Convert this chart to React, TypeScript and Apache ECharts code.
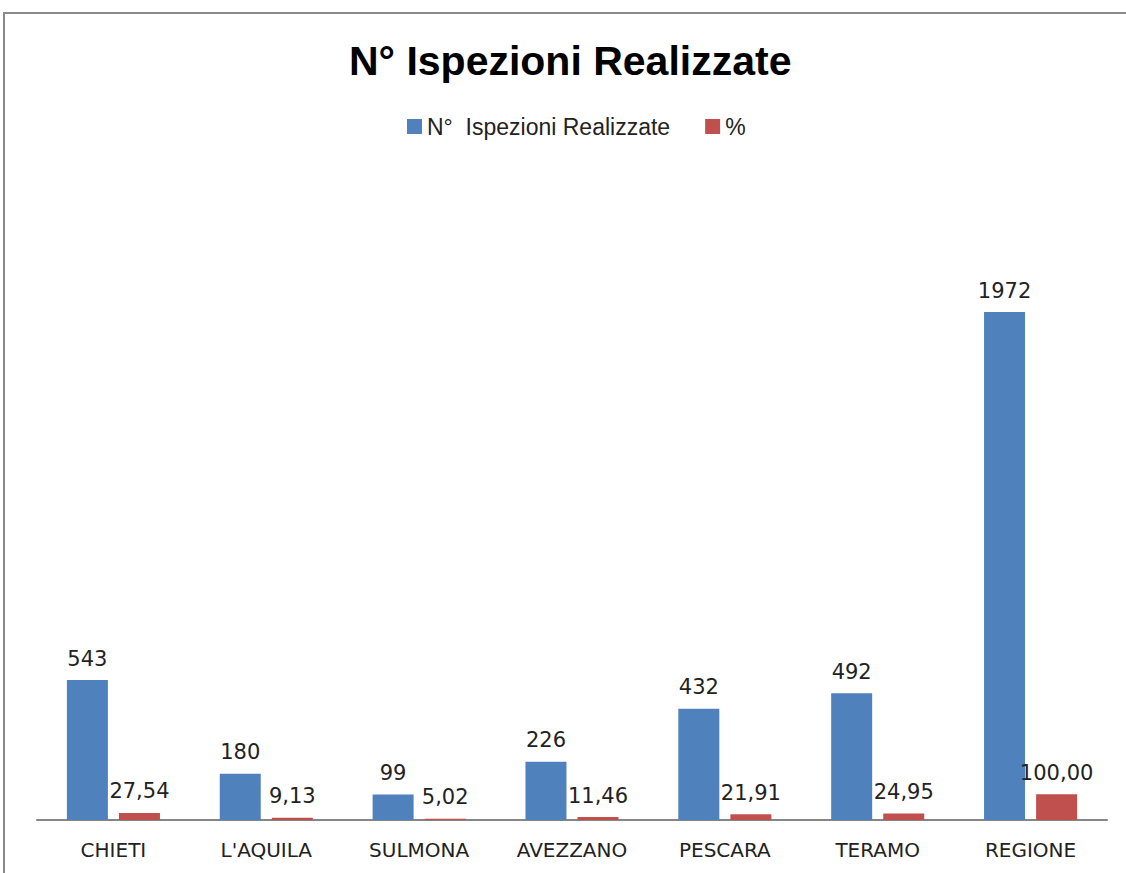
import React, { useEffect, useRef } from "react";
import * as echarts from "echarts";

const categories = ["CHIETI", "L'AQUILA", "SULMONA", "AVEZZANO", "PESCARA", "TERAMO", "REGIONE"];
const ispezioni = [543, 180, 99, 226, 432, 492, 1972];
const percentuali = [27.54, 9.13, 5.02, 11.46, 21.91, 24.95, 100.0];
const seriesNames = ["N°  Ispezioni Realizzate", "%"];
const titleText = "N° Ispezioni Realizzate";

export default function App() {
  const ref = useRef<HTMLDivElement>(null);
  useEffect(() => {
    if (!ref.current) return;
    const chart = echarts.init(ref.current, null, { renderer: "svg" });
    const labelStyle = {
      show: true,
      position: "top" as const,
      distance: 11,
      fontFamily: "DejaVu Sans",
      fontSize: 21,
      color: "#222",
    };
    chart.setOption({
      animation: false,
      backgroundColor: "#fff",
      graphic: [
        {
          type: "rect",
          shape: { x: 4, y: 13, width: 1300, height: 1000 },
          style: { fill: "none", stroke: "#8a8a8a", lineWidth: 2 },
          silent: true,
        },
      ],
      title: {
        text: titleText,
        left: 344,
        top: 35,
        textStyle: {
          fontFamily: "Liberation Sans",
          fontWeight: "bold",
          fontSize: 41,
          color: "#000",
        },
      },
      legend: {
        left: 402,
        top: 110,
        icon: "rect",
        itemWidth: 15,
        itemHeight: 15,
        itemGap: 35,
        textStyle: {
          fontFamily: "Liberation Sans",
          fontSize: 23,
          color: "#222",
        },
        data: seriesNames,
      },
      grid: { left: 37, right: 19, top: 176, bottom: 53 },
      xAxis: {
        type: "category",
        data: categories,
        axisLine: { lineStyle: { color: "#868686", width: 2 } },
        axisTick: { show: false },
        axisLabel: {
          fontFamily: "DejaVu Sans",
          fontSize: 20,
          color: "#222",
          margin: 20,
        },
      },
      yAxis: {
        type: "value",
        min: 0,
        max: 2500,
        interval: 500,
        show: false,
        splitLine: { show: false },
      },
      series: [
        {
          name: seriesNames[0],
          type: "bar",
          data: ispezioni,
          barWidth: 41,
          barGap: "27%",
          itemStyle: { color: "#4F81BD" },
          label: labelStyle,
        },
        {
          name: seriesNames[1],
          type: "bar",
          data: percentuali,
          barWidth: 41,
          itemStyle: { color: "#C0504D" },
          label: {
            ...labelStyle,
            formatter: (p: any) => Number(p.value).toFixed(2).replace(".", ","),
          },
        },
      ],
    });
    return () => chart.dispose();
  }, []);
  return (
    <div
      ref={ref}
      style={{ position: "fixed", left: 0, top: 0, width: 1126, height: 873 }}
    />
  );
}
